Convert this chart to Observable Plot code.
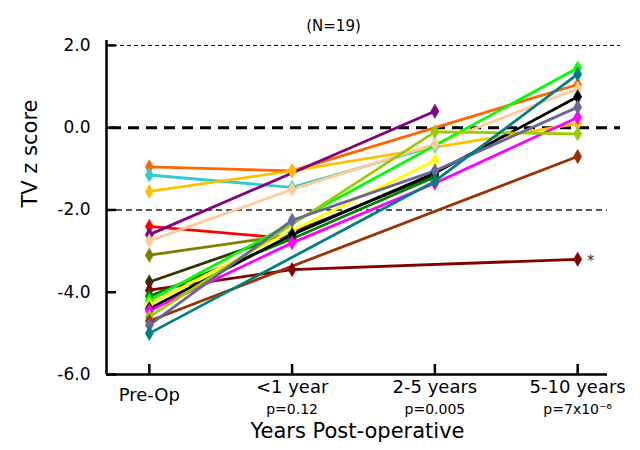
<!DOCTYPE html>
<html>
<head>
<meta charset="utf-8">
<script src="https://cdn.jsdelivr.net/npm/d3@7"></script>
<script src="https://cdn.jsdelivr.net/npm/@observablehq/plot@0.6"></script>
<style>
  body { margin: 0; background: #fff; }
</style>
</head>
<body>
<div id="chart"></div>
<script>
const categories = ["Pre-Op", "<1 year", "2-5 years", "5-10 years"];
const pValues = ["", "p=0.12", "p=0.005", "p=7x10\u207B\u2076"];
const yTicks = [2, 0, -2, -4, -6];
const subtitle = "(N=19)";
const yLabel = "TV z score";
const xLabel = "Years Post-operative";

const patientColors = [
  "#ff6600", "#33cccc", "#ffc000", "#ff0000", "#800080", "#ffcc99",
  "#808000", "#333300", "#800000", "#008000", "#00ff00", "#ffff00",
  "#000000", "#ff00ff", "#99cc00", "#993300", "#666699", "#008080"
];
const patientValues = [
  [-0.95, -1.05, null, 1.05],
  [-1.15, -1.45, -0.45, null],
  [-1.55, -1.05, null, 0.1],
  [-2.4, -2.7, null, null],
  [-2.6, null, 0.4, null],
  [-2.75, -1.5, -0.4, 0.95],
  [-3.1, -2.6, null, null],
  [-3.75, -2.55, -1.15, null],
  [-3.95, -3.45, null, -3.2],
  [-4.1, -2.7, -1.2, null],
  [-4.2, null, null, 1.45],
  [-4.3, -2.5, -0.8, null],
  [-4.4, -2.6, -1.1, 0.75],
  [-4.45, -2.8, -1.35, 0.25],
  [-4.6, null, -0.1, -0.15],
  [-4.7, null, null, -0.7],
  [-4.8, -2.25, -1.05, 0.5],
  [-5.0, null, -1.3, 1.3]
];
const flaggedPatient = 8; // marked with an asterisk

const rows = [];
patientValues.forEach((vals, p) => {
  vals.forEach((v, t) => {
    if (v !== null) rows.push({patient: p, t, z: v, color: patientColors[p]});
  });
});
const flaggedRows = rows.filter(d => d.patient === flaggedPatient && d.t === 3);

const tallDiamond = {
  draw(context, size) {
    const s = Math.sqrt(size / Math.PI);
    context.moveTo(0, -1.55 * s);
    context.lineTo(0.9 * s, 0);
    context.lineTo(0, 1.55 * s);
    context.lineTo(-0.9 * s, 0);
    context.closePath();
  }
};

const xDomain = [-0.3, 3.3];
const yDomain = [-6, 2.12];
const idx = categories.map((d, i) => i);

const chart = Plot.plot({
  width: 640,
  height: 450,
  marginLeft: 106,
  marginRight: 20,
  marginTop: 40,
  marginBottom: 76,
  x: {domain: xDomain, axis: null},
  y: {domain: yDomain, axis: null},
  color: {type: "identity"},
  style: {fontFamily: "DejaVu Sans, sans-serif", fontSize: "16px", color: "#000", background: "#fff"},
  marks: [
    // reference lines
    Plot.ruleY([yTicks[0]], {stroke: "#000", strokeWidth: 1, strokeDasharray: "4,3"}),
    Plot.ruleY([yTicks[1]], {stroke: "#000", strokeWidth: 3, strokeDasharray: "11,7", insetLeft: 4}),
    Plot.ruleY([yTicks[2]], {stroke: "#555", strokeWidth: 2, strokeDasharray: "6,4", insetRight: 13}),
    // axes
    Plot.ruleX([xDomain[0]], {stroke: "#000", strokeWidth: 2.5}),
    Plot.ruleY([yDomain[0]], {stroke: "#000", strokeWidth: 2.5, insetRight: 13}),
    Plot.ruleY(yTicks, {stroke: "#000", strokeWidth: 2.5, insetRight: 504}),
    Plot.ruleX(idx, {stroke: "#000", strokeWidth: 2.5, insetTop: 324}),
    // data
    Plot.line(rows, {x: "t", y: "z", z: "patient", stroke: "color", strokeWidth: 2.8}),
    Plot.dot(rows, {x: "t", y: "z", fill: "color", stroke: "color", strokeWidth: 0.5, symbol: tallDiamond, r: 4.6}),
    Plot.text(flaggedRows, {x: "t", y: "z", text: () => "*", dx: 13, dy: 2, fontSize: 15, fill: "#333"}),
    // tick labels
    Plot.text(yTicks, {y: d => d, frameAnchor: "left", dx: -16, textAnchor: "end", text: d => d.toFixed(1), fontSize: 17}),
    Plot.text(categories, {x: (d, i) => i, frameAnchor: "bottom", dy: 26, text: d => d, fontSize: 18, filter: (d, i) => i === 0}),
    Plot.text(categories, {x: (d, i) => i, frameAnchor: "bottom", dy: 18, text: d => d, fontSize: 18, filter: (d, i) => i > 0}),
    Plot.text(pValues, {x: (d, i) => i, frameAnchor: "bottom", dy: 39, text: d => d, fontSize: 14}),
    // titles
    Plot.text([xLabel], {frameAnchor: "bottom", dy: 63, dx: -6, text: d => d, fontSize: 21}),
    Plot.text([yLabel], {frameAnchor: "left", dx: -76, rotate: -90, text: d => d, fontSize: 21}),
    Plot.text([subtitle], {frameAnchor: "top", dy: -20, dx: -30, text: d => d, fontSize: 15})
  ]
});
document.getElementById("chart").appendChild(chart);
</script>
</body>
</html>
